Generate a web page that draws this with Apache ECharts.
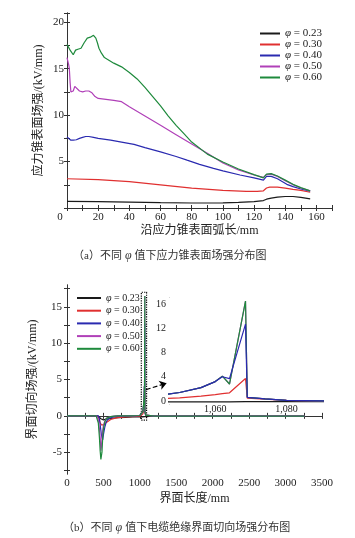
<!DOCTYPE html>
<html><head><meta charset="utf-8">
<script src="https://cdn.jsdelivr.net/npm/echarts@6/dist/echarts.min.js"></script>
<style>html,body{margin:0;padding:0;background:#fff}#c{width:355px;height:538px}</style>
</head><body><div id="c"></div>
<script>
const names = ['φ = 0.23','φ = 0.30','φ = 0.40','φ = 0.50','φ = 0.60'];
const colors = ['#1a1a1a','#e03030','#2a2ab0','#b040b8','#1e8a3c'];

// (a) field strength along stress-cone surface arc length (mm, kV/mm)
const aX023 = [0,20,40,60,80,100,110,120,126,128,131,135,140,145,150,156];
const aY023 = [0.72,0.68,0.64,0.58,0.54,0.55,0.6,0.68,0.8,0.95,1.06,1.18,1.24,1.24,1.15,0.98];
const aX030 = [0,20,40,60,80,100,115,122,126,128,130,135,140,145,150,156];
const aY030 = [3.15,3.05,2.85,2.5,2.15,1.9,1.78,1.8,1.85,2.15,2.25,2.25,2.15,2.0,1.9,1.7];
const aX040 = [0,1,2.5,4,6,8,10,12,14,17,20,28,35,43,50,60,70,77,85,94,100,111,120,126,128,131,135,141,145,150,156];
const aY040 = [7.65,7.5,7.3,7.3,7.35,7.5,7.6,7.7,7.7,7.6,7.5,7.3,7.1,6.85,6.5,6.05,5.55,5.15,4.7,4.27,4.0,3.55,3.25,3.0,3.4,3.4,3.15,2.55,2.3,2.05,1.8];
const aX050 = [0,1,1.5,2,2.5,4,5,6,8,10,12,14,16,18,20,25,30,35,40,50,60,70,80,90,100,110,120,126,128,131,135,140,145,150,156];
const aY050 = [16.2,15.5,15.0,13.5,12.5,12.6,13.1,12.9,12.6,12.5,12.6,12.6,12.4,12.0,11.8,11.7,11.6,11.45,10.9,9.9,8.9,7.9,6.9,5.9,4.85,4.1,3.55,3.3,3.6,3.65,3.4,2.95,2.5,2.15,1.85];
const aX060 = [0,1,2,3,4,5,5.5,7,9,11,13,15,17,18.5,19.5,20.5,22,24,30,35,40,45,50,55,60,65,70,75,80,90,100,110,120,126,128,131,135,140,145,150,156];
const aY060 = [17.6,17.4,17.0,16.8,16.5,16.3,17.0,17.1,17.2,17.8,18.3,18.4,18.6,18.3,17.8,17.2,16.7,16.2,15.6,15.2,14.6,13.9,13.0,12.0,11.0,9.9,8.9,8.0,7.1,5.8,4.95,4.2,3.6,3.25,3.65,3.7,3.45,3.0,2.55,2.2,1.85];

// (b) tangential field strength along cable insulation interface (mm, kV/mm)
const bX = [0,400,415,430,445,455,465,472,480,490,500,520,540,560,600,650,700,800,900,1000,1020,1040,1050,1056,1060,1062,1064,1068.5,1069,1074,1080,1090,1200,2000,3260];
const bY023 = [0,0,0,-0.05,-0.2,-0.3,-0.4,-0.45,-0.5,-0.55,-0.55,-0.5,-0.45,-0.4,-0.35,-0.3,-0.25,-0.2,-0.15,-0.15,-0.15,-0.15,-0.15,-0.15,-0.15,-0.15,-0.15,-0.1,-0.1,-0.1,-0.1,-0.1,-0.05,-0.05,-0.05];
const bY030 = [0,0,0,-0.1,-0.6,-0.9,-1.15,-1.25,-1.3,-1.3,-1.25,-1.1,-0.9,-0.75,-0.5,-0.35,-0.25,-0.15,-0.1,-0.05,0.05,0.25,0.5,0.8,1.05,1.2,1.35,3.7,0.45,0.3,0.1,0,-0.05,-0.05,-0.05];
const bY040 = [0,0,0,0,-0.4,-1.2,-2.0,-2.6,-3.0,-3.3,-2.6,-1.5,-0.8,-0.5,-0.25,-0.12,-0.05,0,0,0.05,0.2,0.55,1.4,2.2,3.2,4.0,3.7,12.7,0.6,0.35,0.1,0,-0.05,-0.05,-0.05];
const bY050 = [0,0,0,-0.5,-1.8,-3.0,-4.8,-4.3,-3.2,-2.0,-1.3,-0.7,-0.35,-0.2,-0.1,-0.05,0,0,0,0.05,0.2,0.55,1.4,2.2,3.2,4.1,2.8,16.5,0.6,0.35,0.1,0,-0.05,-0.05,-0.05];
const bY060 = [0,0,0,-1.0,-3.0,-4.8,-6.0,-6.2,-5.0,-3.0,-1.8,-0.8,-0.35,-0.2,-0.1,-0.05,0,0,0,0.05,0.2,0.55,1.4,2.2,3.2,4.1,2.8,16.5,0.6,0.35,0.1,0,-0.05,-0.05,-0.05];

// annotations (data coordinates)
const zoomBox = [1020, -0.6, 1092, 17];
const arrowFrom = [1083, 3.6];
const arrowTo = [1367, 4.5];

// tick values
const bYTicks = [-5,0,5,10,15];
const bYMinor = [-7.5,-5,-2.5,0,2.5,5,7.5,10,12.5,15,17.5];
const inXTicks = [1060,1080];
const inYTicks = [0,4,8,12,16];

const zip = (xs, ys) => xs.map((x, i) => [x, ys[i]]);
const topData = [zip(aX023,aY023), zip(aX030,aY030), zip(aX040,aY040), zip(aX050,aY050), zip(aX060,aY060)];
const botY = [bY023, bY030, bY040, bY050, bY060];

const SERIF = 'Liberation Serif, Noto Sans CJK SC';
const AX = '#333';
const lbl = {fontFamily: SERIF, fontSize: 11, color: '#222'};

function baseAxis(extra) {
  return Object.assign({
    nameMoveOverlap: false,
    axisLine: {show: true, lineStyle: {color: AX, width: 1}},
    axisTick: {show: true, inside: true, length: 3, lineStyle: {color: AX}},
    splitLine: {show: false},
    axisLabel: Object.assign({margin: 4}, lbl)
  }, extra);
}
function merge(a, b) { return Object.assign({}, a, b); }

const xAxis = [
  baseAxis({gridIndex: 0, type: 'value', min: 0, max: 170, interval: 10,
    axisLabel: merge(lbl, {margin: 4,
      formatter: v => v === 0 ? '{z|0}' : ((v % 20 === 0 && v <= 160) ? String(v) : ''),
      rich: {z: {fontFamily: SERIF, fontSize: 11, color: '#222', padding: [0, 14, 0, 0]}}}),
    name: '沿应力锥表面弧长/mm', nameLocation: 'middle', nameGap: 17,
    nameTextStyle: {fontFamily: SERIF, fontSize: 12, color: '#222'}}),
  baseAxis({gridIndex: 0, type: 'value', position: 'top', min: 0, max: 170, interval: 10, axisLabel: {show: false}}),
  baseAxis({gridIndex: 1, type: 'value', min: 0, max: 3500, interval: 250,
    axisLabel: merge(lbl, {margin: 4, formatter: v => v % 500 === 0 ? String(v) : ''}),
    name: '界面长度/mm', nameLocation: 'middle', nameGap: 19,
    nameTextStyle: {fontFamily: SERIF, fontSize: 12, color: '#222'}}),
  baseAxis({gridIndex: 1, type: 'value', position: 'top', min: 0, max: 3500, interval: 250, axisLabel: {show: false}}),
  baseAxis({gridIndex: 2, type: 'value', min: 1047, max: 1090,
    axisLine: {show: true, lineStyle: {color: '#777', width: 1}},
    axisTick: {show: false},
    axisLabel: merge(lbl, {fontSize: 10, margin: 0, customValues: inXTicks})})
];
const yAxis = [
  baseAxis({gridIndex: 0, type: 'value', min: 0, max: 21, interval: 2.5,
    axisLabel: merge(lbl, {margin: 3, formatter: v => (v > 0 && v <= 20 && v % 5 === 0) ? String(v) : ''}),
    name: '应力锥表面场强/(kV/mm)', nameLocation: 'middle', nameGap: 22,
    nameTextStyle: {fontFamily: SERIF, fontSize: 12, color: '#222'}}),
  baseAxis({gridIndex: 0, type: 'value', position: 'right', min: 0, max: 21, interval: 2.5, axisLabel: {show: false}}),
  baseAxis({gridIndex: 1, type: 'value', min: -8, max: 18,
    axisTick: {show: true, inside: true, length: 3, lineStyle: {color: AX}, customValues: bYMinor},
    axisLabel: merge(lbl, {margin: 5, customValues: bYTicks}),
    name: '界面切向场强/(kV/mm)', nameLocation: 'middle', nameGap: 28,
    nameTextStyle: {fontFamily: SERIF, fontSize: 12, color: '#222'}}),
  baseAxis({gridIndex: 1, type: 'value', position: 'right', min: -8, max: 18,
    axisTick: {show: true, inside: true, length: 3, lineStyle: {color: AX}, customValues: bYMinor},
    axisLabel: {show: false}}),
  baseAxis({gridIndex: 2, type: 'value', min: -0.5, max: 17,
    axisLine: {show: true, lineStyle: {color: '#999', width: 1}},
    axisTick: {show: false},
    axisLabel: merge(lbl, {fontSize: 10, margin: 3, customValues: inYTicks})})
];

const series = [];
names.forEach((n, i) => {
  series.push({type: 'line', name: n, xAxisIndex: 0, yAxisIndex: 0, data: topData[i],
    symbol: 'none', lineStyle: {width: 1.2, color: colors[i]}, itemStyle: {color: colors[i]}, z: 2 + i, animation: false});
});
names.forEach((n, i) => {
  const s = {type: 'line', name: n, xAxisIndex: 2, yAxisIndex: 2, data: zip(bX, botY[i]),
    symbol: 'none', lineStyle: {width: 1.2, color: colors[i]}, itemStyle: {color: colors[i]}, z: 2 + i, animation: false};
  if (i === 4) {
    s.markArea = {silent: true, itemStyle: {color: 'rgba(0,0,0,0)', borderColor: '#000', borderWidth: 1.2, borderType: 'dotted'},
      data: [[{coord: [zoomBox[0], zoomBox[1]]}, {coord: [zoomBox[2], zoomBox[3]]}]]};
    s.markLine = {silent: true, symbol: ['none', 'arrow'], symbolSize: 7, label: {show: false},
      lineStyle: {type: 'dashed', color: '#000', width: 1.2}, animation: false,
      data: [[{coord: arrowFrom}, {coord: arrowTo}]]};
  }
  series.push(s);
});
const insetOrder = [0, 1, 3, 4, 2];
insetOrder.forEach((i, k) => {
  series.push({type: 'line', name: names[i], xAxisIndex: 4, yAxisIndex: 4, data: zip(bX, botY[i]),
    symbol: 'none', lineStyle: {width: 1.2, color: colors[i]}, itemStyle: {color: colors[i]}, z: 10 + k, animation: false});
});

const legendFmt = n => '{i|φ}{n| = ' + n.split('= ')[1] + '}';
const capRich = {t: {fontFamily: SERIF, fontSize: 11, fontWeight: 'normal', color: '#333'},
  i: {fontFamily: 'Liberation Serif', fontStyle: 'italic', fontWeight: 'normal', fontSize: 12, color: '#333'}};
const option = {
  backgroundColor: '#fff',
  animation: false,
  title: [
    {text: '{t|（a）不同}{i| φ }{t|值下应力锥表面场强分布图}', left: 73, top: 250, padding: 0,
      textStyle: {fontWeight: 'normal', rich: capRich}},
    {text: '{t|（b）不同}{i| φ }{t|值下电缆绝缘界面切向场强分布图}', left: 63, top: 522, padding: 0,
      textStyle: {fontWeight: 'normal', rich: capRich}}
  ],
  legend: [
    {orient: 'vertical', left: 260, top: 28, padding: 0, itemGap: 0, itemWidth: 20, itemHeight: 2, icon: 'rect',
      data: names, formatter: legendFmt, selectedMode: false,
      textStyle: {fontSize: 11, lineHeight: 10.7, color: '#222', rich: {
        i: {fontFamily: 'Liberation Serif', fontStyle: 'italic', fontSize: 11, color: '#222'},
        n: {fontFamily: 'Liberation Serif', fontSize: 11, color: '#222'}}}},
    {orient: 'vertical', left: 77, top: 293, padding: 0, itemGap: 2.7, itemWidth: 24, itemHeight: 2, icon: 'rect',
      data: names, formatter: legendFmt, selectedMode: false,
      textStyle: {fontSize: 10, lineHeight: 10, color: '#222', rich: {
        i: {fontFamily: 'Liberation Serif', fontStyle: 'italic', fontSize: 10, color: '#222'},
        n: {fontFamily: 'Liberation Serif', fontSize: 10, color: '#222'}}}}
  ],
  grid: [
    {left: 67, top: 13, width: 265, height: 195, containLabel: false},
    {left: 67, top: 285, width: 255, height: 189, containLabel: false},
    {left: 169, top: 298, width: 153, height: 106, containLabel: false, show: true, backgroundColor: '#fff', borderWidth: 0, z: 5}
  ],
  xAxis, yAxis, series
};
const chart = echarts.init(document.getElementById('c'), null, {renderer: 'canvas'});
chart.setOption(option);
</script></body></html>
